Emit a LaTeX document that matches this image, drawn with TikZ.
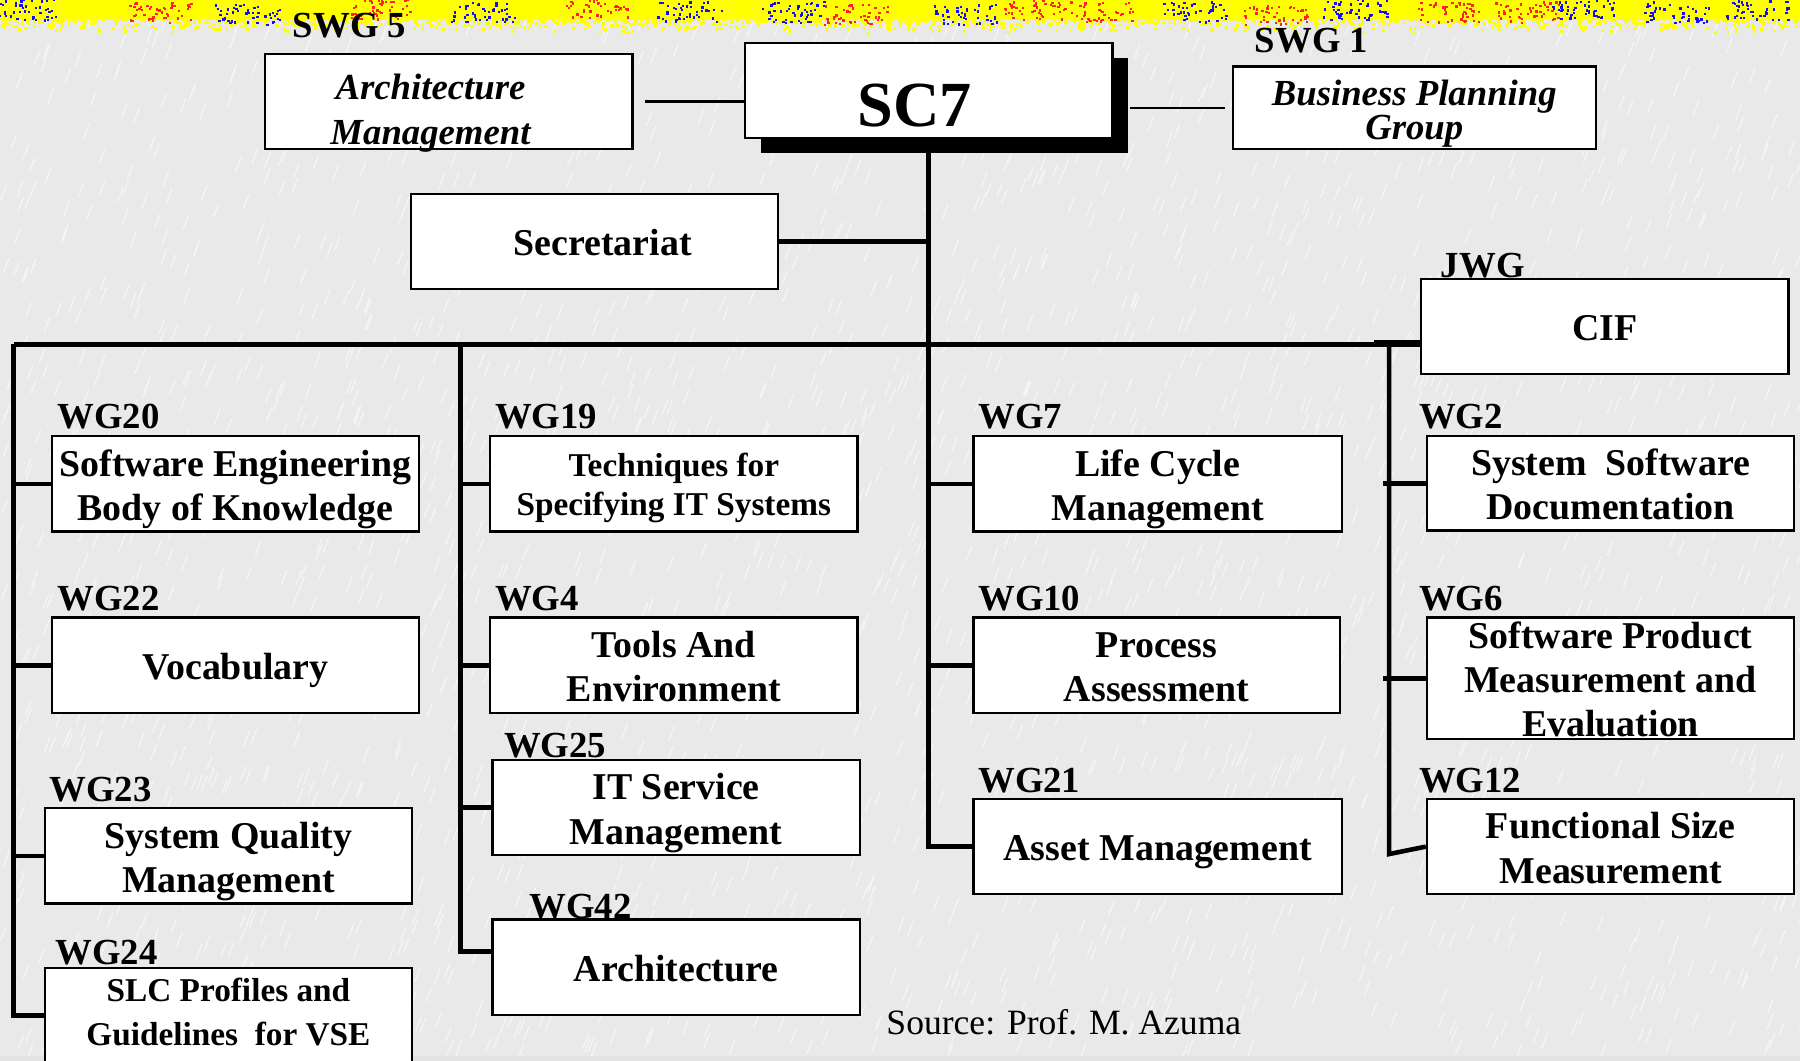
\documentclass[tikz,border=0pt]{standalone}
\usepackage{fontspec}
\setmainfont{Liberation Serif}
\usetikzlibrary{shadows}
\definecolor{bgray}{HTML}{E9E9E9}
\definecolor{streak}{HTML}{F5F5F5}
\definecolor{bandyellow}{HTML}{FFFF00}
\definecolor{dotred}{HTML}{FF2020}
\definecolor{dotblue}{HTML}{1010F0}
\tikzset{
  box/.style={draw, line width=2pt, fill=white, inner sep=0pt, minimum width=320pt, minimum height=83pt, align=center, text depth=2pt, font=\bfseries\fontsize{33}{38.5}\selectfont},
  smallbox/.style={box, font=\bfseries\fontsize{29}{34}\selectfont},
  itbox/.style={box, font=\bfseries\itshape\fontsize{32}{39}\selectfont},
  lbl/.style={anchor=base west, inner sep=0pt, font=\bfseries\fontsize{32}{36}\selectfont},
  bus/.style={line width=4pt},
  thinline/.style={line width=2pt}
}
\begin{document}
\begin{tikzpicture}[x=1pt,y=-1pt]
\useasboundingbox (0,0) rectangle (1568,924);
% background
\fill[bgray] (0,0) rectangle (1568,924);
\pgfmathsetseed{42}
\foreach \i in {1,...,2600}{
  \pgfmathsetmacro\xx{rnd*1568}
  \pgfmathsetmacro\yy{20+rnd*904}
  \draw[streak, line width=1.1pt] (\xx,\yy) -- ++(5,-13);
}
\fill[gray!22] (0,920) rectangle (1568,924);
% top band
\fill[bandyellow] (0,0) rectangle (1568,17);
\foreach \i in {1,...,2200}{
  \pgfmathsetmacro\xx{rnd*1568}
  \pgfmathsetmacro\yy{13+rnd*rnd*15}
  \fill[bandyellow] (\xx,\yy) rectangle ++(2.5,2.5);
}
\foreach \cx/\cy/\cc in {20/8/dotblue,140/10/dotred,215/12/dotblue,330/8/dotred,420/10/dotblue,520/6/dotred,600/10/dotblue,690/10/dotblue,745/12/dotred,840/12/dotblue,900/8/dotred,960/10/dotred,1040/10/dotblue,1110/12/dotred,1180/8/dotblue,1260/10/dotred,1330/10/dotred,1380/8/dotblue,1460/10/dotblue,1530/8/dotblue}{
  \foreach \j in {1,...,45}{
    \pgfmathsetmacro\xx{\cx+rand*28}
    \pgfmathsetmacro\yy{\cy+rand*9}
    \fill[\cc] (\xx,\yy) rectangle ++(2,2);
  }
}
% top level
\node[itbox, text depth=0pt] (am) at (391,88.5) {\rule{0pt}{35pt}Architecture\hspace*{32pt}\\Management\hspace*{32pt}};
\node[box, text depth=0pt, font=\bfseries\fontsize{56}{60}\selectfont, drop shadow={shadow xshift=14pt, shadow yshift=-13pt, fill=black, opacity=1}] (sc7) at (809,79) {\rule{0pt}{62pt}SC7\hspace*{24pt}};
\node[itbox, text depth=0pt, minimum width=316pt, minimum height=72pt, font=\bfseries\itshape\fontsize{32}{30}\selectfont] (bpg) at (1232,94) {\rule{0pt}{25pt}Business Planning\\Group};
\node[box] (sec) at (518,210.5) {\strut\hspace*{14pt}Secretariat};
\node[box] (cif) at (1398,284.5) {\strut CIF};
% column 1
\node[box] (wg20) at (205,421.5) {\strut Software Engineering\\Body of Knowledge};
\node[box] (wg22) at (205,579.5) {\strut Vocabulary};
\node[box] (wg23) at (199,745.5) {\strut System Quality\\Management};
\node[box, text depth=12.6pt, font=\bfseries\fontsize{29}{38}\selectfont] (wg24) at (199,884.5) {\strut SLC Profiles and\\Guidelines\ \ for VSE};
% column 2
\node[smallbox] (wg19) at (587,421.5) {\strut Techniques for\\Specifying IT Systems};
\node[box] (wg4) at (587,579.5) {\strut Tools And\\Environment};
\node[box] (wg25) at (589,703.5) {\strut IT Service\\Management};
\node[box] (wg42) at (589,842.5) {\strut Architecture};
% column 3
\node[box, minimum width=321pt] (wg7) at (1008.5,421.5) {\strut Life Cycle\\Management};
\node[box, minimum width=319pt] (wg10) at (1007.5,579.5) {\strut Process\\Assessment};
\node[box, minimum width=321pt] (wg21) at (1008.5,737.5) {\strut Asset Management};
% column 4
\node[box, minimum height=82pt] (wg2) at (1403,421) {\strut System\ \ Software\\Documentation};
\node[box, minimum height=106pt] (wg6) at (1403,591) {\strut Software Product\\Measurement and\\Evaluation};
\node[box] (wg12) at (1403,737.5) {\strut Functional Size\\Measurement};
% connectors
\coordinate (busL) at (12,300);
\coordinate (c2) at (401,300);
\coordinate (c4) at (1210,300);
\draw[thinline] ([xshift=10pt]am.east) -- (am.east -| sc7.west);
\draw[thinline] ([xshift=-6pt]bpg.west) -- ([xshift=14pt]bpg.west -| sc7.east);
\draw[bus] (sc7.south) |- (wg21.west);
\draw[bus] (sec.east) -- (sec.east -| sc7.south);
\draw[bus] (busL) -- (busL -| cif.west);
\draw[line width=5.5pt] ([xshift=-40pt,yshift=1pt]busL -| cif.west) -- ([yshift=1pt]busL -| cif.west);
\draw[bus] (busL) |- (wg24.west);
\draw[bus] (busL |- wg20.west) -- (wg20.west);
\draw[bus] (busL |- wg22.west) -- (wg22.west);
\draw[bus] (busL |- wg23.west) -- (wg23.west);
\draw[bus] (c2) |- ([yshift=13.5pt]wg42.west);
\draw[bus] (c2 |- wg19.west) -- (wg19.west);
\draw[bus] (c2 |- wg4.west) -- (wg4.west);
\draw[bus] (c2 |- wg25.west) -- (wg25.west);
\draw[bus] (sc7.south |- wg7.west) -- (wg7.west);
\draw[bus] (sc7.south |- wg10.west) -- (wg10.west);
\draw[bus] (c4) -- ++(0,444) -- (wg12.west);
\draw[bus] ([xshift=-5pt]c4 |- wg2.west) -- (wg2.west);
\draw[bus] ([xshift=-5pt]c4 |- wg6.west) -- (wg6.west);
% labels
\node[lbl] (lswg5) at (255,33) {SWG 5};
\node[lbl] (lswg1) at (1093,46) {SWG 1};
\node[lbl] (ljwg) at (1255,242) {JWG};
\node[lbl] (l20) at (50,373) {WG20};
\node[lbl] (l22) at (50,532) {WG22};
\node[lbl] (l23) at (43,698) {WG23};
\node[lbl] (l24) at (48,840) {WG24};
\node[lbl] (l19) at (431,373) {WG19};
\node[lbl] (l4) at (431,532) {WG4};
\node[lbl] (l25) at (439,660) {WG25};
\node[lbl] (l42) at (461,800) {WG42};
\node[lbl] (l7) at (852,373) {WG7};
\node[lbl] (l10) at (852,532) {WG10};
\node[lbl] (l21) at (852,690) {WG21};
\node[lbl] (l2) at (1236,373) {WG2};
\node[lbl] (l6) at (1236,532) {WG6};
\node[lbl] (l12) at (1236,690) {WG12};
\node[anchor=base west, inner sep=0pt, font=\fontsize{31}{36}\selectfont] (src) at (772,901) {Source: Prof. M. Azuma};
\end{tikzpicture}
\end{document}
